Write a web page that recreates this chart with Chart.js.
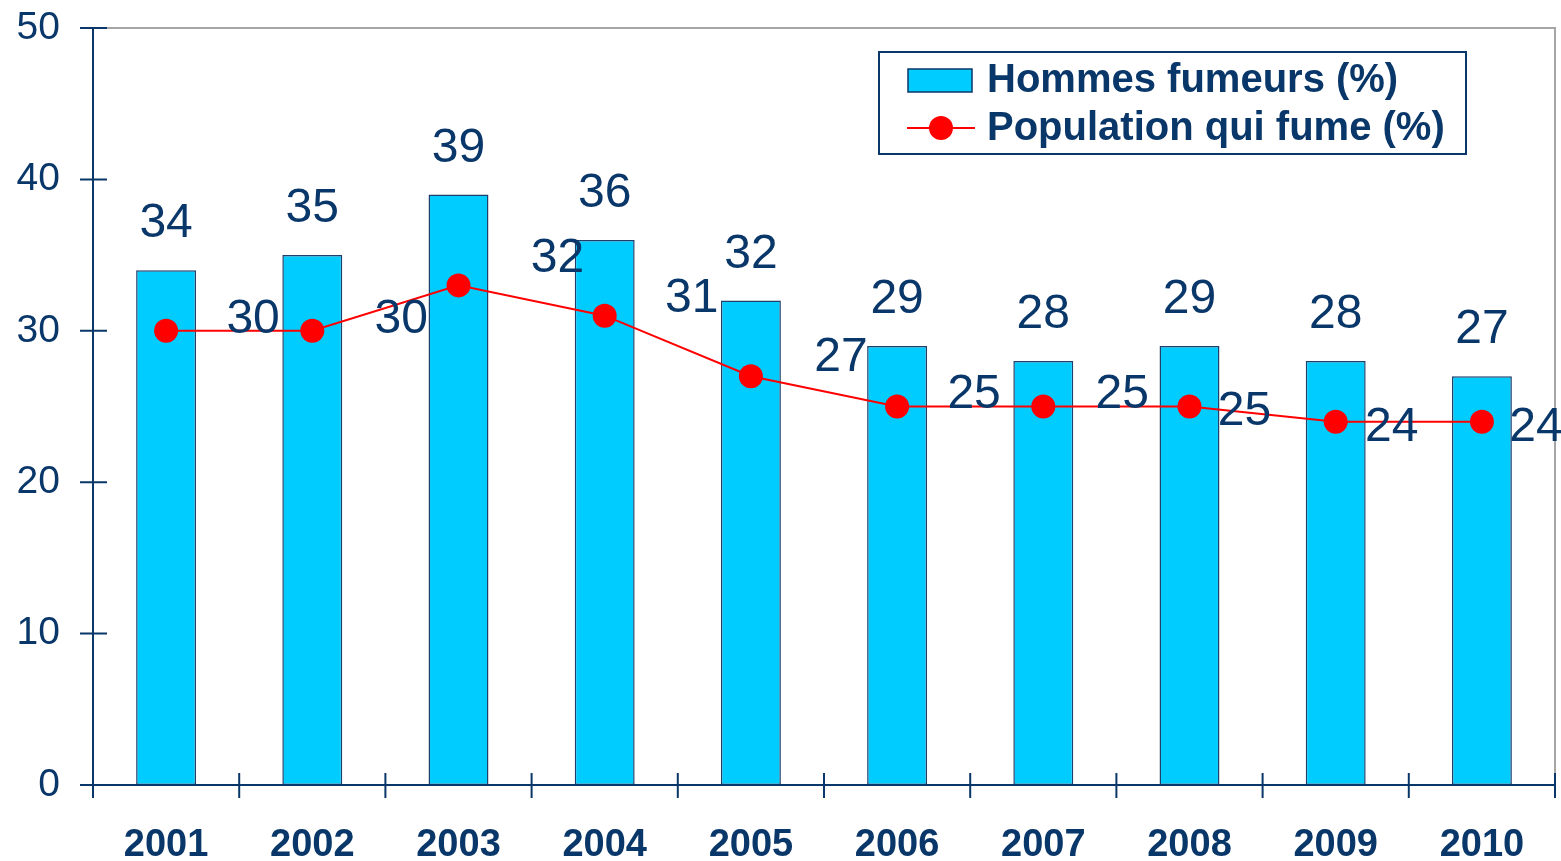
<!DOCTYPE html>
<html>
<head>
<meta charset="utf-8">
<script src="https://cdn.jsdelivr.net/npm/chart.js@4.4.0/dist/chart.umd.min.js"></script>
<style>
    html, body { margin: 0; padding: 0; background: #fff; }
    #wrap { width: 1561px; height: 861px; }
</style>
</head>
<body>
<div id="wrap"><canvas id="myChart" width="1561" height="861"></canvas></div>
<script>
var years = ['2001', '2002', '2003', '2004', '2005', '2006', '2007', '2008', '2009', '2010'];
var hommesFumeurs = [34, 35, 39, 36, 32, 29, 28, 29, 28, 27];
var populationFume = [30, 30, 33, 31, 27, 25, 25, 25, 24, 24];
// labels as printed on the chart (2003 is printed 32)
var populationLabels = ['30', '30', '32', '31', '27', '25', '25', '25', '24', '24'];
var yTicks = [0, 10, 20, 30, 40, 50];

// label placement, relative to each point (style only)
var popLabelShift = [[87, -11], [89, -11], [99, -27], [87, -17], [90, -18], [77, -12], [79, -12], [55, 5], [56, 6], [54, 6]];

var navy = '#0A3769';
var cyan = '#00CCFF';
var red = '#FF0000';
Chart.defaults.font.family = '"Liberation Sans", Arial, sans-serif';

var decor = {
    id: 'decor',
    beforeDatasetsDraw: function(chart) {
        var ctx = chart.ctx, a = chart.chartArea;
        ctx.save();
        // grey frame top + right
        ctx.strokeStyle = '#A6A6A6';
        ctx.lineWidth = 2;
        ctx.beginPath();
        ctx.moveTo(a.left, a.top);
        ctx.lineTo(a.right, a.top);
        ctx.lineTo(a.right, a.bottom);
        ctx.stroke();
        ctx.restore();
    },
    afterDatasetsDraw: function(chart) {
        var ctx = chart.ctx, a = chart.chartArea, ys = chart.scales.y;
        ctx.save();
        // axes
        ctx.strokeStyle = navy;
        ctx.lineWidth = 2;
        ctx.beginPath();
        ctx.moveTo(a.left, a.top);
        ctx.lineTo(a.left, a.bottom);
        ctx.lineTo(a.right, a.bottom);
        // y tick marks, crossing the axis
        yTicks.forEach(function(v) {
            var py = ys.getPixelForValue(v);
            ctx.moveTo(a.left - 13, py);
            ctx.lineTo(a.left + 14, py);
        });
        // x tick marks at category boundaries
        var w = (a.right - a.left) / years.length;
        for (var k = 0; k <= years.length; k++) {
            var px = a.left + k * w;
            ctx.moveTo(px, a.bottom - 12);
            ctx.lineTo(px, a.bottom + 13);
        }
        ctx.stroke();

        // value labels
        ctx.fillStyle = navy;
        ctx.textAlign = 'center';
        ctx.textBaseline = 'middle';
        ctx.font = '48px "Liberation Sans", Arial, sans-serif';
        var barMeta = chart.getDatasetMeta(1);
        barMeta.data.forEach(function(el, i) {
            ctx.fillText(String(hommesFumeurs[i]), el.x, el.y - 46);
        });
        var lineMeta = chart.getDatasetMeta(0);
        lineMeta.data.forEach(function(el, i) {
            ctx.fillText(populationLabels[i], el.x + popLabelShift[i][0], el.y + popLabelShift[i][1]);
        });

        // legend box
        var lx = 879, ly = 52, lw = 587, lh = 102;
        ctx.lineWidth = 2;
        ctx.strokeStyle = navy;
        ctx.strokeRect(lx, ly, lw, lh);
        ctx.fillStyle = cyan;
        ctx.fillRect(908, 69, 64, 23);
        ctx.lineWidth = 1.5;
        ctx.strokeRect(908, 69, 64, 23);
        ctx.strokeStyle = red;
        ctx.lineWidth = 2;
        ctx.beginPath();
        ctx.moveTo(907, 128);
        ctx.lineTo(975, 128);
        ctx.stroke();
        ctx.fillStyle = red;
        ctx.beginPath();
        ctx.arc(941, 128, 12, 0, Math.PI * 2);
        ctx.fill();
        ctx.fillStyle = navy;
        ctx.textAlign = 'left';
        ctx.font = 'bold 40px "Liberation Sans", Arial, sans-serif';
        ctx.fillText(chart.data.datasets[1].label, 987, 81);
        ctx.fillText(chart.data.datasets[0].label, 987, 129);
        ctx.restore();
    }
};

var ctx = document.getElementById('myChart').getContext('2d');
var myChart = new Chart(ctx, {
    type: 'bar',
    data: {
        labels: years,
        datasets: [{
            type: 'line',
            label: 'Population qui fume (%)',
            data: populationFume,
            borderColor: red,
            backgroundColor: red,
            borderWidth: 2,
            pointRadius: 12,
            pointBorderWidth: 0,
            pointBackgroundColor: red,
            order: 0
        }, {
            type: 'bar',
            label: 'Hommes fumeurs (%)',
            data: hommesFumeurs,
            backgroundColor: cyan,
            borderColor: '#1F3F6B',
            borderWidth: 1.5,
            borderSkipped: false,
            categoryPercentage: 1,
            barPercentage: 0.41,
            order: 1
        }]
    },
    options: {
        responsive: false,
        animation: false,
        devicePixelRatio: 1,
        layout: { autoPadding: false, padding: { top: 28, right: 6, left: 0, bottom: 0 } },
        plugins: {
            legend: { display: false },
            tooltip: { enabled: false }
        },
        scales: {
            x: {
                grid: { display: false, drawTicks: false },
                border: { display: false },
                ticks: { color: navy, font: { size: 38, weight: 'bold' }, padding: 38 },
                afterFit: function(s) {
                    s.height = 76;
                    s.paddingLeft = 0;
                    s.paddingRight = 0;
                }
            },
            y: {
                min: 0,
                max: 50,
                grid: { display: false, drawTicks: false },
                border: { display: false },
                ticks: { stepSize: 10, color: navy, font: { size: 39 }, padding: 33 },
                afterFit: function(s) {
                    s.width = 93;
                    s.paddingTop = 0;
                    s.paddingBottom = 0;
                }
            }
        }
    },
    plugins: [decor]
});
</script>
</body>
</html>
